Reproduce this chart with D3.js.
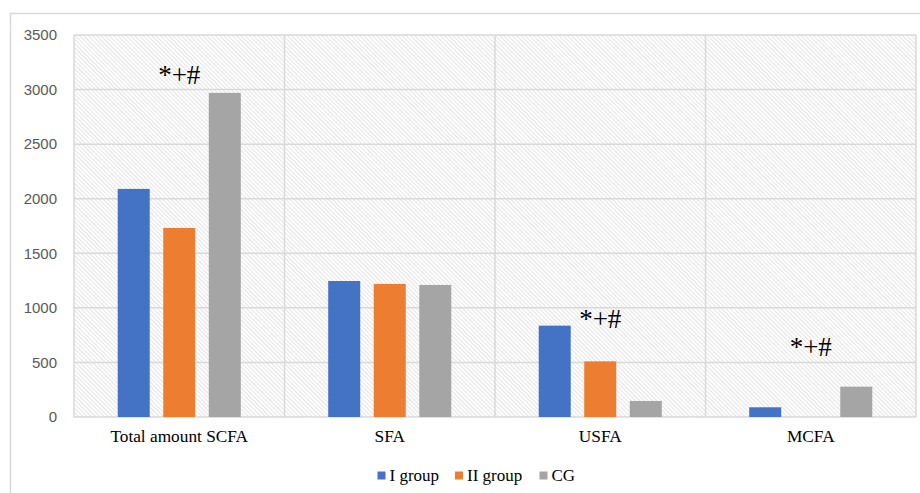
<!DOCTYPE html>
<html>
<head>
<meta charset="utf-8">
<script src="https://cdn.jsdelivr.net/npm/d3@7"></script>
<style>
  html, body { margin: 0; padding: 0; background: #ffffff; }
  svg { display: block; }
</style>
</head>
<body>
<div id="chart"></div>
<script>
// Fatty acid groups along the x axis
const categories = ["Total amount SCFA", "SFA", "USFA", "MCFA"];
// Series names and values (same order as categories)
const seriesNames = ["I group", "II group", "CG"];
const groupI  = [2090, 1246, 837, 89];
const groupII = [1732, 1219, 510, 0];
const groupCG = [2970, 1210, 147, 278];
// Y-axis ticks
const yTicks = [0, 500, 1000, 1500, 2000, 2500, 3000, 3500];
// Significance markers: category, value height the marker sits over
const markerText = "*+#";
const markerCats = ["Total amount SCFA", "USFA", "MCFA"];
const markerLevels = [3050, 820, 560];

const seriesValues = [groupI, groupII, groupCG];
const colors = ["#4472c4", "#ed7d31", "#a5a5a5"];

const W = 920, H = 493;
const margin = { left: 74, right: 4, top: 35, bottom: 76 };
const plotW = W - margin.left - margin.right;
const plotH = 417 - margin.top;

const svg = d3.select("#chart").append("svg")
  .attr("width", W).attr("height", H);

// Light diagonal hatch used for the plot background
const defs = svg.append("defs");
const pat = defs.append("pattern")
  .attr("id", "hatch")
  .attr("patternUnits", "userSpaceOnUse")
  .attr("width", 3).attr("height", 3)
  .attr("patternTransform", "rotate(-45)");
pat.append("rect").attr("width", 3).attr("height", 3).attr("fill", "#ffffff");
pat.append("line")
  .attr("x1", 0.5).attr("y1", 0).attr("x2", 0.5).attr("y2", 3)
  .attr("stroke", "#e4e4e4").attr("stroke-width", 1);

// Outer chart frame
svg.append("rect")
  .attr("x", 10.5).attr("y", 13.5)
  .attr("width", W).attr("height", H)
  .attr("fill", "none").attr("stroke", "#d9d9d9").attr("stroke-width", 1.5);

const g = svg.append("g").attr("transform", `translate(${margin.left},${margin.top})`);

const x0 = d3.scaleBand().domain(categories).range([0, plotW]).padding(0);
const x1 = d3.scaleBand().domain(seriesNames).range([0, x0.bandwidth()])
  .paddingInner(0.297).paddingOuter(0.96);
const y = d3.scaleLinear().domain([0, 3500]).range([plotH, 0]);

// Plot background
g.append("rect")
  .attr("x", 0).attr("y", 0).attr("width", plotW).attr("height", plotH)
  .attr("fill", "url(#hatch)");

// Horizontal gridlines
g.append("g").selectAll("line").data(yTicks).join("line")
  .attr("x1", 0).attr("x2", plotW)
  .attr("y1", d => y(d)).attr("y2", d => y(d))
  .attr("stroke", "#d9d9d9").attr("stroke-width", 1.5);

// Vertical separators between categories, plus plot edges
const edges = categories.map(c => x0(c)).concat([plotW]);
g.append("g").selectAll("line").data(edges).join("line")
  .attr("x1", d => d).attr("x2", d => d)
  .attr("y1", 0).attr("y2", plotH)
  .attr("stroke", "#d9d9d9").attr("stroke-width", 1.5);

// Bars
const rows = [];
categories.forEach((c, ci) => {
  seriesNames.forEach((s, si) => {
    rows.push({ cat: c, series: s, value: seriesValues[si][ci], color: colors[si] });
  });
});
g.append("g").selectAll("rect").data(rows).join("rect")
  .attr("x", d => x0(d.cat) + x1(d.series))
  .attr("y", d => y(d.value))
  .attr("width", x1.bandwidth())
  .attr("height", d => plotH - y(d.value))
  .attr("fill", d => d.color);

// Y axis labels
const yAxis = d3.axisLeft(y).tickValues(yTicks).tickSize(0).tickPadding(17)
  .tickFormat(d3.format("d"));
const ya = g.append("g").call(yAxis);
ya.select(".domain").remove();
ya.selectAll("text")
  .attr("font-family", "'Liberation Sans', Arial, sans-serif")
  .attr("font-size", 15).attr("fill", "#595959");

// X axis category labels
const xAxis = d3.axisBottom(x0).tickSize(0).tickPadding(13);
const xa = g.append("g").attr("transform", `translate(0,${plotH})`).call(xAxis);
xa.select(".domain").remove();
xa.selectAll("text")
  .attr("font-family", "'Liberation Serif', 'Times New Roman', serif")
  .attr("font-size", 17.3).attr("fill", "#000000");

// Significance markers
g.append("g").selectAll("text").data(markerCats.map((c, i) => ({ cat: c, level: markerLevels[i] })))
  .join("text")
  .attr("x", d => x0(d.cat) + x0.bandwidth() / 2)
  .attr("y", d => y(d.level))
  .attr("text-anchor", "middle")
  .attr("font-family", "'Liberation Serif', 'Times New Roman', serif")
  .attr("font-size", 27).attr("fill", "#000000")
  .text(markerText);

// Legend
const legendItems = [
  { name: seriesNames[0], color: colors[0], x: 377.5 },
  { name: seriesNames[1], color: colors[1], x: 455 },
  { name: seriesNames[2], color: colors[2], x: 539.5 }
];
const lg = svg.append("g");
legendItems.forEach(it => {
  lg.append("rect").attr("x", it.x).attr("y", 471.5).attr("width", 8).attr("height", 8)
    .attr("fill", it.color);
  lg.append("text").attr("x", it.x + 12).attr("y", 481)
    .attr("font-family", "'Liberation Serif', 'Times New Roman', serif")
    .attr("font-size", 17).attr("fill", "#000000")
    .text(it.name);
});
</script>
</body>
</html>
